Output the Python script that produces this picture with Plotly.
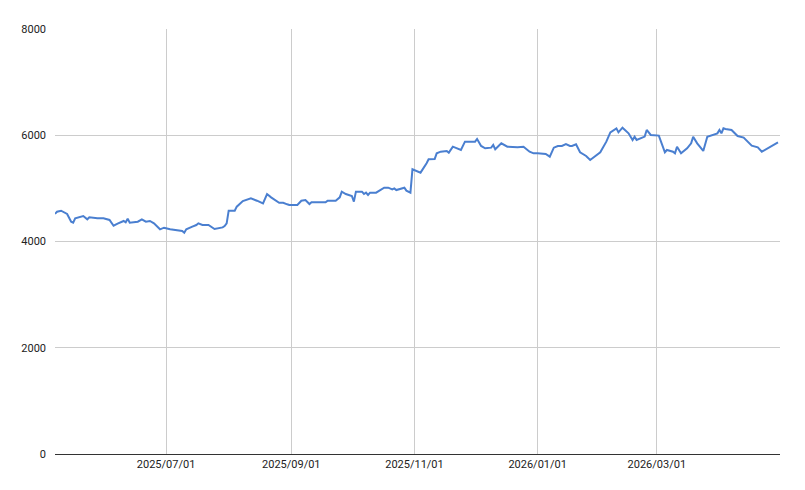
import plotly.graph_objects as go

dates = [
    "2025-05-07", "2025-05-08", "2025-05-10", "2025-05-13", "2025-05-15", "2025-05-16", "2025-05-17",
    "2025-05-21", "2025-05-23", "2025-05-24", "2025-05-28", "2025-05-31", "2025-06-03", "2025-06-05",
    "2025-06-07", "2025-06-10", "2025-06-11", "2025-06-12", "2025-06-13", "2025-06-17", "2025-06-19",
    "2025-06-21", "2025-06-23", "2025-06-25", "2025-06-28", "2025-06-30", "2025-07-03", "2025-07-06",
    "2025-07-09", "2025-07-10", "2025-07-11", "2025-07-14", "2025-07-16", "2025-07-17", "2025-07-19",
    "2025-07-22", "2025-07-25", "2025-07-29", "2025-07-30", "2025-07-31", "2025-08-01", "2025-08-04",
    "2025-08-05", "2025-08-08", "2025-08-12", "2025-08-15", "2025-08-18", "2025-08-20", "2025-08-22",
    "2025-08-26", "2025-08-28", "2025-08-30", "2025-08-31", "2025-09-04", "2025-09-06", "2025-09-08",
    "2025-09-10", "2025-09-11", "2025-09-16", "2025-09-18", "2025-09-19", "2025-09-23", "2025-09-25",
    "2025-09-26", "2025-09-28", "2025-10-01", "2025-10-02", "2025-10-03", "2025-10-06", "2025-10-07",
    "2025-10-08", "2025-10-09", "2025-10-10", "2025-10-13", "2025-10-17", "2025-10-19", "2025-10-21",
    "2025-10-22", "2025-10-23", "2025-10-27", "2025-10-28", "2025-10-30", "2025-10-31", "2025-11-04",
    "2025-11-07", "2025-11-08", "2025-11-11", "2025-11-12", "2025-11-14", "2025-11-17", "2025-11-18",
    "2025-11-20", "2025-11-24", "2025-11-26", "2025-11-28", "2025-12-01", "2025-12-02", "2025-12-04",
    "2025-12-06", "2025-12-09", "2025-12-10", "2025-12-11", "2025-12-14", "2025-12-17", "2025-12-22",
    "2025-12-25", "2025-12-28", "2025-12-30", "2026-01-01", "2026-01-05", "2026-01-07", "2026-01-09",
    "2026-01-11", "2026-01-13", "2026-01-15", "2026-01-17", "2026-01-18", "2026-01-20", "2026-01-22",
    "2026-01-25", "2026-01-27", "2026-02-01", "2026-02-04", "2026-02-06", "2026-02-09", "2026-02-10",
    "2026-02-12", "2026-02-15", "2026-02-17", "2026-02-18", "2026-02-19", "2026-02-23", "2026-02-24",
    "2026-02-26", "2026-03-02", "2026-03-05", "2026-03-06", "2026-03-09", "2026-03-10", "2026-03-11",
    "2026-03-13", "2026-03-16", "2026-03-18", "2026-03-19", "2026-03-21", "2026-03-24", "2026-03-26",
    "2026-03-29", "2026-03-31", "2026-04-01", "2026-04-02", "2026-04-03", "2026-04-04", "2026-04-07",
    "2026-04-10", "2026-04-13", "2026-04-17", "2026-04-20", "2026-04-22", "2026-04-30",
]
values = [
    4520, 4561, 4580, 4518, 4373, 4354, 4436,
    4480, 4418, 4455, 4436, 4436, 4405, 4297,
    4335, 4386, 4361, 4430, 4354, 4373, 4418,
    4373, 4386, 4342, 4229, 4260, 4229, 4216,
    4197, 4166, 4229, 4279, 4310, 4342, 4310,
    4310, 4235, 4266, 4291, 4342, 4580, 4580,
    4656, 4762, 4812, 4768, 4718, 4894, 4831,
    4730, 4730, 4700, 4687, 4687, 4768, 4780,
    4705, 4737, 4743, 4737, 4768, 4768, 4831,
    4938, 4894, 4856, 4750, 4938, 4938, 4894,
    4919, 4875, 4919, 4919, 5013, 5013, 4982,
    5000, 4969, 5013, 4957, 4919, 5359, 5296,
    5472, 5547, 5553, 5660, 5691, 5704, 5672,
    5785, 5723, 5880, 5880, 5880, 5930, 5798,
    5754, 5767, 5817, 5735, 5848, 5785, 5773,
    5785, 5691, 5660, 5660, 5647, 5597, 5766,
    5798, 5798, 5835, 5798, 5798, 5829, 5679,
    5610, 5534, 5679, 5880, 6055, 6130, 6055,
    6143, 6036, 5911, 5974, 5911, 5974, 6099,
    6005, 5993, 5679, 5723, 5691, 5660, 5785,
    5660, 5754, 5848, 5973, 5848, 5704, 5973,
    6005, 6036, 6099, 6036, 6130, 6118, 6099,
    5986, 5955, 5804, 5773, 5691, 5867,
]
tick_dates = ["2025-07-01", "2025-09-01", "2025-11-01", "2026-01-01", "2026-03-01"]
tick_labels = ["2025/07/01", "2025/09/01", "2025/11/01", "2026/01/01", "2026/03/01"]
y_ticks = [0, 2000, 4000, 6000, 8000]

fig = go.Figure()
fig.add_trace(go.Scatter(x=dates, y=values, mode="lines",
                         line=dict(color="#4a7fd0", width=2)))
fig.update_layout(
    width=805, height=490, showlegend=False,
    paper_bgcolor="white", plot_bgcolor="white",
    margin=dict(l=47, r=33, t=21, b=44),
    font=dict(family="Roboto, Arial, sans-serif", size=11, color="#222"),
)
fig.update_xaxes(range=["2025-05-07", "2026-05-01"], tickvals=tick_dates, ticktext=tick_labels,
                 showgrid=True, gridcolor="#cccccc", showline=True, linecolor="#333",
                 ticks="", zeroline=False)
fig.update_yaxes(range=[0, 8000], tickvals=y_ticks, showgrid=True, gridcolor="#cccccc",
                 zeroline=False, ticks="", ticklabelstandoff=8)
fig.write_html("out.html")
